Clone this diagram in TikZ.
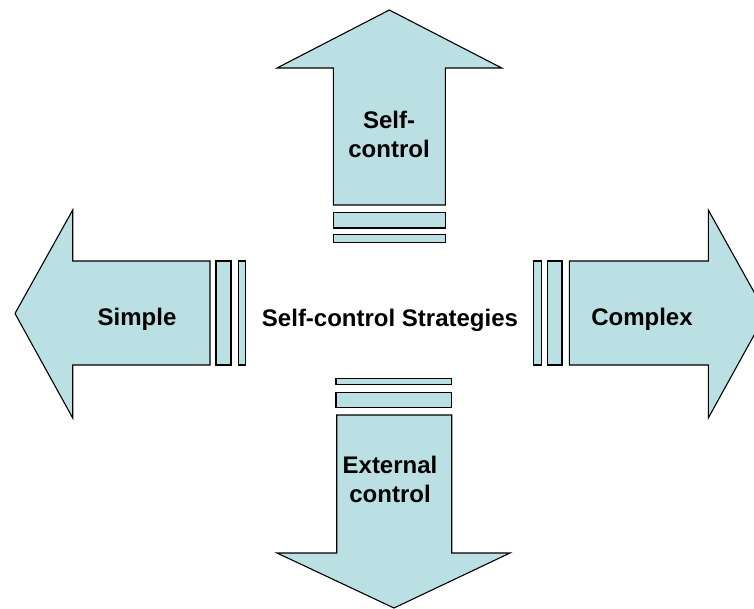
\documentclass[tikz,border=0pt]{standalone}
\usepackage{fontspec}
\setmainfont{Liberation Sans}
\usepackage{tikz}
\usetikzlibrary{positioning}
\definecolor{arrowfill}{RGB}{187,224,227}
\tikzstyle{block}=[draw=black,fill=arrowfill,line width=1.1pt,line join=miter]
\tikzstyle{label}=[align=center,inner sep=0pt,font=\fontsize{24}{29}\selectfont\bfseries]

\begin{document}
\begin{tikzpicture}[x=1pt,y=-1pt]
      \useasboundingbox (0,0) rectangle (754,609);
      \clip (0,0) rectangle (754,609);
      % up
      \draw[block] (333.3,205) -- (333.3,68) -- (277,68) -- (389.3,10) -- (501.7,68) -- (445.3,68) -- (445.3,205) -- cycle;
      \draw[block] (333.3,212.7) rectangle (445.3,228);
      \draw[block] (333.3,234.3) rectangle (445.3,242.3);
      % left
      \draw[block] (210,261) -- (72.7,261) -- (72.7,210) -- (15,313.5) -- (72.7,418) -- (72.7,365) -- (210,365) -- cycle;
      \draw[block] (216,261) rectangle (231,365);
      \draw[block] (238.7,261) rectangle (245.7,365);
      % right
      \draw[block] (569.3,261) -- (708.3,261) -- (708.3,210) -- (766,313.5) -- (708.3,418) -- (708.3,365) -- (569.3,365) -- cycle;
      \draw[block] (533.3,261) rectangle (541.7,365);
      \draw[block] (547.7,261) rectangle (562,365);
      % down
      \draw[block] (336,378.3) rectangle (451.7,384.3);
      \draw[block] (336,392.7) rectangle (451.7,407.3);
      \draw[block] (336.7,415) -- (451.7,415) -- (451.7,553) -- (510,553) -- (394,608) -- (277,553) -- (336.7,553) -- cycle;
      % texts
      \node[label] at (390,320) (strategies) {Self-control Strategies};
      \node[label] at (389,134) (selfctl) {Self-\\control};
      \node[label] at (137,319) (simple) {Simple};
      \node[label] at (642,319) (complex) {Complex};
      \node[label] at (390,479) (extctl) {External\\control};
    \end{tikzpicture}
\end{document}
